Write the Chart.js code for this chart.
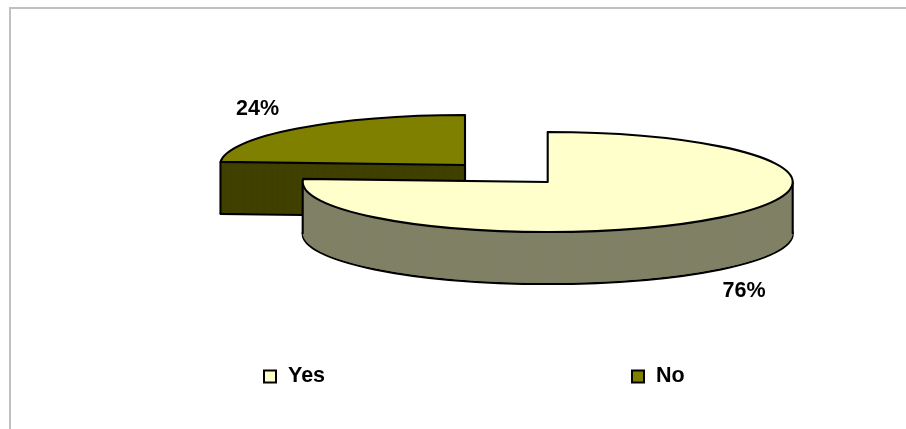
<!DOCTYPE html>
<html>
<head>
<meta charset="utf-8">
<style>
html,body{margin:0;padding:0;background:#fff;overflow:hidden}
#wrap{position:absolute;left:0;top:0;width:906px;height:429px}
#frameT{position:absolute;left:9px;top:7px;width:897px;height:2px;background:#c0c0c0}
#frameL{position:absolute;left:9px;top:7px;width:2px;height:422px;background:#c0c0c0}
canvas{position:absolute;left:0;top:0}
</style>
<script src="https://cdn.jsdelivr.net/npm/chart.js@4"></script>
</head>
<body>
<div id="wrap">
<div id="frameT"></div><div id="frameL"></div>
<canvas id="c" width="906" height="429"></canvas>
</div>
<script>
const categories = ['Yes', 'No'];
const values = [76, 24];
const topColors = ['#FFFFCC', '#808000'];
const sideColors = ['#808066', '#404000'];

// presentation of the flattened, exploded pie
const RADIUS = 245, FLATTEN = 50 / 245, DEPTH = 52;
const centers = [[547.7, 182], [465, 165]];
const valueLabelAt = [[744, 291], [257.5, 109]];
const legendAt = [[264, 376.5], [632, 376.5]];
const FONT = 'bold 21.5px "Liberation Sans", Arial, sans-serif';

function slicePath(ctx, cx, cy, arc) {
  ctx.beginPath();
  ctx.moveTo(cx, cy);
  ctx.ellipse(cx, cy, arc.outerRadius, arc.outerRadius * FLATTEN, 0, arc.startAngle, arc.endAngle);
  ctx.closePath();
}
function silhouette(cx, cy, arc) {
  const r = arc.outerRadius, ry = r * FLATTEN;
  const at = a => [cx + r * Math.cos(a), cy + ry * Math.sin(a)];
  const pts = [[cx, cy], at(arc.startAngle), at(arc.endAngle)];
  [0, Math.PI, 2 * Math.PI].forEach(a => {
    if (a >= arc.startAngle && a <= arc.endAngle) pts.push(at(a));
  });
  pts.sort((p, q) => p[0] - q[0]);
  return [pts[0], pts[pts.length - 1]];
}

const pie3d = {
  id: 'pie3d',
  beforeDatasetDraw(chart, args) {
    const ctx = chart.ctx;
    const arcs = chart.getDatasetMeta(args.index).data;
    [1, 0].forEach(i => {
      const arc = arcs[i], cx = centers[i][0], cy = centers[i][1];
      ctx.save();
      ctx.lineJoin = 'round';
      ctx.strokeStyle = '#000';
      ctx.lineWidth = 2.1;
      // side wall: bottom outline then swept layers
      slicePath(ctx, cx, cy + DEPTH, arc);
      ctx.fillStyle = sideColors[i];
      ctx.fill();
      ctx.stroke();
      for (let d = DEPTH - 1; d >= 0; d--) {
        slicePath(ctx, cx, cy + d, arc);
        ctx.fill();
      }
      silhouette(cx, cy, arc).forEach(p => {
        ctx.beginPath();
        ctx.moveTo(p[0], p[1]);
        ctx.lineTo(p[0], p[1] + DEPTH);
        ctx.stroke();
      });
      // top face drawn by the library's arc element
      ctx.save();
      ctx.translate(cx, cy);
      ctx.scale(1, FLATTEN);
      ctx.translate(-arc.x, -arc.y);
      arc.draw(ctx);
      ctx.restore();
      slicePath(ctx, cx, cy, arc);
      ctx.stroke();
      ctx.restore();
    });
    return false;
  },
  afterDraw(chart) {
    const ctx = chart.ctx;
    const total = values.reduce((a, b) => a + b, 0);
    ctx.save();
    ctx.font = FONT;
    ctx.fillStyle = '#000';
    ctx.textBaseline = 'middle';
    ctx.textAlign = 'center';
    values.forEach((v, i) => {
      ctx.fillText(Math.round(v / total * 100) + '%', valueLabelAt[i][0], valueLabelAt[i][1]);
    });
    ctx.textAlign = 'left';
    categories.forEach((name, i) => {
      const [x, y] = legendAt[i];
      ctx.fillStyle = topColors[i];
      ctx.strokeStyle = '#000';
      ctx.lineWidth = 2;
      ctx.fillRect(x, y - 6, 12, 12);
      ctx.strokeRect(x, y - 6, 12, 12);
      ctx.fillStyle = '#000';
      ctx.fillText(name, x + 24, y - 0.5);
    });
    ctx.restore();
  }
};

new Chart(document.getElementById('c'), {
  type: 'pie',
  data: {
    labels: categories,
    datasets: [{ data: values, backgroundColor: topColors, borderWidth: 0 }]
  },
  options: {
    responsive: false,
    animation: false,
    events: [],
    radius: RADIUS,
    plugins: { legend: { display: false }, tooltip: { enabled: false }, title: { display: false } }
  },
  plugins: [pie3d]
});
</script>
</body>
</html>
